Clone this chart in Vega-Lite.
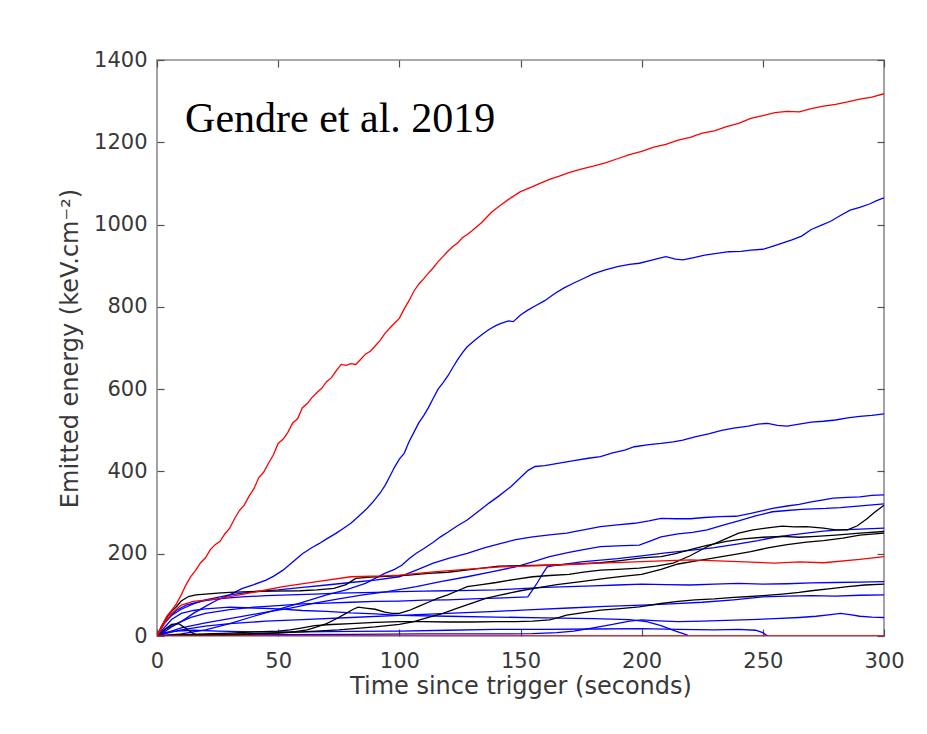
{
  "$schema": "https://vega.github.io/schema/vega-lite/v6.json",
  "width": 727,
  "height": 576,
  "autosize": {"type": "none"},
  "padding": {"left": 157, "top": 60, "right": 43, "bottom": 98},
  "background": "white",
  "config": {
    "view": {"stroke": "#8c8c8c", "strokeWidth": 1.6},
    "axis": {
      "domain": false,
      "grid": false,
      "zindex": 1,
      "offset": -7,
      "ticks": true,
      "tickColor": "#505050",
      "tickSize": 7,
      "tickWidth": 1.2,
      "labelFont": "DejaVu Sans",
      "labelFontSize": 21,
      "labelColor": "#383838",
      "titleFont": "DejaVu Sans",
      "titleFontSize": 24,
      "titleFontWeight": "normal",
      "titleColor": "#383838"
    }
  },
  "datasets": {
    "curves": [
      {"s":"B1","g":"B","t":0,"v":0},{"s":"B1","g":"B","t":3,"v":10},{"s":"B1","g":"B","t":6,"v":22},{"s":"B1","g":"B","t":10,"v":35},{"s":"B1","g":"B","t":15,"v":55},{"s":"B1","g":"B","t":20,"v":72},{"s":"B1","g":"B","t":25,"v":88},{"s":"B1","g":"B","t":30,"v":100},{"s":"B1","g":"B","t":35,"v":115},{"s":"B1","g":"B","t":40,"v":125},{"s":"B1","g":"B","t":45,"v":136},{"s":"B1","g":"B","t":48,"v":145},{"s":"B1","g":"B","t":52,"v":160},{"s":"B1","g":"B","t":56,"v":180},{"s":"B1","g":"B","t":60,"v":200},{"s":"B1","g":"B","t":64,"v":215},{"s":"B1","g":"B","t":67,"v":225},{"s":"B1","g":"B","t":70,"v":236},{"s":"B1","g":"B","t":74,"v":250},{"s":"B1","g":"B","t":77,"v":262},{"s":"B1","g":"B","t":80,"v":274},{"s":"B1","g":"B","t":83,"v":290},{"s":"B1","g":"B","t":86,"v":306},{"s":"B1","g":"B","t":89,"v":325},{"s":"B1","g":"B","t":92,"v":347},{"s":"B1","g":"B","t":94,"v":365},{"s":"B1","g":"B","t":96,"v":387},{"s":"B1","g":"B","t":98,"v":410},{"s":"B1","g":"B","t":100,"v":430},{"s":"B1","g":"B","t":102,"v":444},{"s":"B1","g":"B","t":104,"v":472},{"s":"B1","g":"B","t":106,"v":495},{"s":"B1","g":"B","t":108,"v":518},{"s":"B1","g":"B","t":110,"v":535},{"s":"B1","g":"B","t":112,"v":555},{"s":"B1","g":"B","t":114,"v":578},{"s":"B1","g":"B","t":116,"v":600},{"s":"B1","g":"B","t":118,"v":615},{"s":"B1","g":"B","t":120,"v":632},{"s":"B1","g":"B","t":122,"v":652},{"s":"B1","g":"B","t":124,"v":671},{"s":"B1","g":"B","t":126,"v":688},{"s":"B1","g":"B","t":128,"v":703},{"s":"B1","g":"B","t":131,"v":718},{"s":"B1","g":"B","t":134,"v":732},{"s":"B1","g":"B","t":137,"v":745},{"s":"B1","g":"B","t":140,"v":755},{"s":"B1","g":"B","t":142,"v":760},{"s":"B1","g":"B","t":145,"v":766},{"s":"B1","g":"B","t":147,"v":764},{"s":"B1","g":"B","t":150,"v":780},{"s":"B1","g":"B","t":153,"v":792},{"s":"B1","g":"B","t":156,"v":802},{"s":"B1","g":"B","t":160,"v":815},{"s":"B1","g":"B","t":164,"v":832},{"s":"B1","g":"B","t":168,"v":846},{"s":"B1","g":"B","t":172,"v":858},{"s":"B1","g":"B","t":176,"v":869},{"s":"B1","g":"B","t":180,"v":880},{"s":"B1","g":"B","t":185,"v":890},{"s":"B1","g":"B","t":190,"v":898},{"s":"B1","g":"B","t":195,"v":903},{"s":"B1","g":"B","t":199,"v":906},{"s":"B1","g":"B","t":203,"v":912},{"s":"B1","g":"B","t":207,"v":918},{"s":"B1","g":"B","t":210,"v":922},{"s":"B1","g":"B","t":214,"v":916},{"s":"B1","g":"B","t":217,"v":914},{"s":"B1","g":"B","t":222,"v":920},{"s":"B1","g":"B","t":226,"v":926},{"s":"B1","g":"B","t":231,"v":930},{"s":"B1","g":"B","t":236,"v":934},{"s":"B1","g":"B","t":241,"v":935},{"s":"B1","g":"B","t":245,"v":938},{"s":"B1","g":"B","t":250,"v":940},{"s":"B1","g":"B","t":253,"v":945},{"s":"B1","g":"B","t":258,"v":955},{"s":"B1","g":"B","t":262,"v":963},{"s":"B1","g":"B","t":266,"v":972},{"s":"B1","g":"B","t":270,"v":988},{"s":"B1","g":"B","t":274,"v":998},{"s":"B1","g":"B","t":278,"v":1008},{"s":"B1","g":"B","t":282,"v":1022},{"s":"B1","g":"B","t":286,"v":1035},{"s":"B1","g":"B","t":290,"v":1042},{"s":"B1","g":"B","t":294,"v":1050},{"s":"B1","g":"B","t":297,"v":1058},{"s":"B1","g":"B","t":300,"v":1065},

      {"s":"B2","g":"B","t":0,"v":0},{"s":"B2","g":"B","t":10,"v":5},{"s":"B2","g":"B","t":20,"v":15},{"s":"B2","g":"B","t":30,"v":30},{"s":"B2","g":"B","t":40,"v":48},{"s":"B2","g":"B","t":50,"v":65},{"s":"B2","g":"B","t":60,"v":82},{"s":"B2","g":"B","t":70,"v":100},{"s":"B2","g":"B","t":78,"v":112},{"s":"B2","g":"B","t":86,"v":128},{"s":"B2","g":"B","t":90,"v":140},{"s":"B2","g":"B","t":94,"v":152},{"s":"B2","g":"B","t":98,"v":162},{"s":"B2","g":"B","t":101,"v":172},{"s":"B2","g":"B","t":104,"v":188},{"s":"B2","g":"B","t":107,"v":201},{"s":"B2","g":"B","t":110,"v":212},{"s":"B2","g":"B","t":114,"v":228},{"s":"B2","g":"B","t":117,"v":241},{"s":"B2","g":"B","t":120,"v":252},{"s":"B2","g":"B","t":124,"v":268},{"s":"B2","g":"B","t":128,"v":282},{"s":"B2","g":"B","t":132,"v":300},{"s":"B2","g":"B","t":137,"v":323},{"s":"B2","g":"B","t":141,"v":340},{"s":"B2","g":"B","t":146,"v":363},{"s":"B2","g":"B","t":150,"v":385},{"s":"B2","g":"B","t":153,"v":402},{"s":"B2","g":"B","t":156,"v":412},{"s":"B2","g":"B","t":160,"v":414},{"s":"B2","g":"B","t":166,"v":420},{"s":"B2","g":"B","t":172,"v":426},{"s":"B2","g":"B","t":178,"v":432},{"s":"B2","g":"B","t":183,"v":436},{"s":"B2","g":"B","t":188,"v":445},{"s":"B2","g":"B","t":193,"v":452},{"s":"B2","g":"B","t":197,"v":460},{"s":"B2","g":"B","t":203,"v":465},{"s":"B2","g":"B","t":208,"v":468},{"s":"B2","g":"B","t":213,"v":472},{"s":"B2","g":"B","t":217,"v":476},{"s":"B2","g":"B","t":222,"v":484},{"s":"B2","g":"B","t":228,"v":492},{"s":"B2","g":"B","t":233,"v":500},{"s":"B2","g":"B","t":238,"v":505},{"s":"B2","g":"B","t":244,"v":510},{"s":"B2","g":"B","t":248,"v":515},{"s":"B2","g":"B","t":252,"v":517},{"s":"B2","g":"B","t":256,"v":512},{"s":"B2","g":"B","t":260,"v":510},{"s":"B2","g":"B","t":265,"v":515},{"s":"B2","g":"B","t":270,"v":520},{"s":"B2","g":"B","t":275,"v":522},{"s":"B2","g":"B","t":280,"v":525},{"s":"B2","g":"B","t":285,"v":530},{"s":"B2","g":"B","t":290,"v":534},{"s":"B2","g":"B","t":295,"v":536},{"s":"B2","g":"B","t":300,"v":540},

      {"s":"B3","g":"B","t":0,"v":0},{"s":"B3","g":"B","t":3,"v":30},{"s":"B3","g":"B","t":6,"v":50},{"s":"B3","g":"B","t":10,"v":65},{"s":"B3","g":"B","t":15,"v":78},{"s":"B3","g":"B","t":20,"v":88},{"s":"B3","g":"B","t":30,"v":100},{"s":"B3","g":"B","t":40,"v":108},{"s":"B3","g":"B","t":50,"v":112},{"s":"B3","g":"B","t":60,"v":118},{"s":"B3","g":"B","t":70,"v":124},{"s":"B3","g":"B","t":80,"v":130},{"s":"B3","g":"B","t":90,"v":136},{"s":"B3","g":"B","t":100,"v":144},{"s":"B3","g":"B","t":107,"v":160},{"s":"B3","g":"B","t":114,"v":177},{"s":"B3","g":"B","t":121,"v":190},{"s":"B3","g":"B","t":128,"v":201},{"s":"B3","g":"B","t":135,"v":214},{"s":"B3","g":"B","t":142,"v":225},{"s":"B3","g":"B","t":148,"v":234},{"s":"B3","g":"B","t":155,"v":241},{"s":"B3","g":"B","t":162,"v":246},{"s":"B3","g":"B","t":169,"v":250},{"s":"B3","g":"B","t":176,"v":258},{"s":"B3","g":"B","t":183,"v":266},{"s":"B3","g":"B","t":190,"v":270},{"s":"B3","g":"B","t":197,"v":274},{"s":"B3","g":"B","t":203,"v":280},{"s":"B3","g":"B","t":208,"v":286},{"s":"B3","g":"B","t":214,"v":285},{"s":"B3","g":"B","t":220,"v":285},{"s":"B3","g":"B","t":226,"v":288},{"s":"B3","g":"B","t":232,"v":290},{"s":"B3","g":"B","t":239,"v":291},{"s":"B3","g":"B","t":245,"v":298},{"s":"B3","g":"B","t":250,"v":305},{"s":"B3","g":"B","t":254,"v":310},{"s":"B3","g":"B","t":260,"v":316},{"s":"B3","g":"B","t":265,"v":320},{"s":"B3","g":"B","t":270,"v":326},{"s":"B3","g":"B","t":275,"v":331},{"s":"B3","g":"B","t":279,"v":335},{"s":"B3","g":"B","t":285,"v":337},{"s":"B3","g":"B","t":290,"v":338},{"s":"B3","g":"B","t":295,"v":342},{"s":"B3","g":"B","t":300,"v":343},

      {"s":"B4","g":"B","t":0,"v":0},{"s":"B4","g":"B","t":5,"v":10},{"s":"B4","g":"B","t":10,"v":20},{"s":"B4","g":"B","t":20,"v":32},{"s":"B4","g":"B","t":30,"v":42},{"s":"B4","g":"B","t":45,"v":58},{"s":"B4","g":"B","t":55,"v":68},{"s":"B4","g":"B","t":65,"v":80},{"s":"B4","g":"B","t":75,"v":90},{"s":"B4","g":"B","t":85,"v":100},{"s":"B4","g":"B","t":95,"v":108},{"s":"B4","g":"B","t":107,"v":120},{"s":"B4","g":"B","t":117,"v":132},{"s":"B4","g":"B","t":128,"v":144},{"s":"B4","g":"B","t":138,"v":156},{"s":"B4","g":"B","t":148,"v":168},{"s":"B4","g":"B","t":155,"v":180},{"s":"B4","g":"B","t":162,"v":193},{"s":"B4","g":"B","t":170,"v":203},{"s":"B4","g":"B","t":176,"v":210},{"s":"B4","g":"B","t":183,"v":217},{"s":"B4","g":"B","t":190,"v":219},{"s":"B4","g":"B","t":199,"v":221},{"s":"B4","g":"B","t":204,"v":232},{"s":"B4","g":"B","t":208,"v":241},{"s":"B4","g":"B","t":215,"v":248},{"s":"B4","g":"B","t":221,"v":252},{"s":"B4","g":"B","t":227,"v":258},{"s":"B4","g":"B","t":234,"v":270},{"s":"B4","g":"B","t":240,"v":280},{"s":"B4","g":"B","t":247,"v":292},{"s":"B4","g":"B","t":254,"v":302},{"s":"B4","g":"B","t":260,"v":305},{"s":"B4","g":"B","t":266,"v":308},{"s":"B4","g":"B","t":271,"v":309},{"s":"B4","g":"B","t":276,"v":310},{"s":"B4","g":"B","t":282,"v":312},{"s":"B4","g":"B","t":288,"v":315},{"s":"B4","g":"B","t":294,"v":318},{"s":"B4","g":"B","t":300,"v":321},

      {"s":"B5","g":"B","t":0,"v":0},{"s":"B5","g":"B","t":4,"v":18},{"s":"B5","g":"B","t":8,"v":30},{"s":"B5","g":"B","t":14,"v":45},{"s":"B5","g":"B","t":20,"v":55},{"s":"B5","g":"B","t":30,"v":64},{"s":"B5","g":"B","t":40,"v":70},{"s":"B5","g":"B","t":50,"v":74},{"s":"B5","g":"B","t":60,"v":78},{"s":"B5","g":"B","t":70,"v":80},{"s":"B5","g":"B","t":80,"v":82},{"s":"B5","g":"B","t":90,"v":84},{"s":"B5","g":"B","t":100,"v":85},{"s":"B5","g":"B","t":110,"v":87},{"s":"B5","g":"B","t":120,"v":88},{"s":"B5","g":"B","t":130,"v":90},{"s":"B5","g":"B","t":140,"v":92},{"s":"B5","g":"B","t":148,"v":94},{"s":"B5","g":"B","t":153,"v":95},{"s":"B5","g":"B","t":155,"v":112},{"s":"B5","g":"B","t":157,"v":130},{"s":"B5","g":"B","t":159,"v":150},{"s":"B5","g":"B","t":161,"v":168},{"s":"B5","g":"B","t":165,"v":172},{"s":"B5","g":"B","t":170,"v":176},{"s":"B5","g":"B","t":175,"v":180},{"s":"B5","g":"B","t":182,"v":184},{"s":"B5","g":"B","t":190,"v":188},{"s":"B5","g":"B","t":200,"v":195},{"s":"B5","g":"B","t":210,"v":202},{"s":"B5","g":"B","t":220,"v":208},{"s":"B5","g":"B","t":230,"v":215},{"s":"B5","g":"B","t":240,"v":224},{"s":"B5","g":"B","t":248,"v":232},{"s":"B5","g":"B","t":255,"v":240},{"s":"B5","g":"B","t":262,"v":246},{"s":"B5","g":"B","t":268,"v":250},{"s":"B5","g":"B","t":275,"v":255},{"s":"B5","g":"B","t":282,"v":258},{"s":"B5","g":"B","t":290,"v":260},{"s":"B5","g":"B","t":300,"v":262},

      {"s":"B6","g":"B","t":0,"v":0},{"s":"B6","g":"B","t":2,"v":25},{"s":"B6","g":"B","t":5,"v":45},{"s":"B6","g":"B","t":8,"v":62},{"s":"B6","g":"B","t":12,"v":75},{"s":"B6","g":"B","t":18,"v":84},{"s":"B6","g":"B","t":25,"v":90},{"s":"B6","g":"B","t":35,"v":95},{"s":"B6","g":"B","t":45,"v":98},{"s":"B6","g":"B","t":55,"v":100},{"s":"B6","g":"B","t":65,"v":102},{"s":"B6","g":"B","t":75,"v":104},{"s":"B6","g":"B","t":90,"v":106},{"s":"B6","g":"B","t":100,"v":108},{"s":"B6","g":"B","t":110,"v":109},{"s":"B6","g":"B","t":120,"v":110},{"s":"B6","g":"B","t":130,"v":111},{"s":"B6","g":"B","t":140,"v":112},{"s":"B6","g":"B","t":150,"v":115},{"s":"B6","g":"B","t":160,"v":118},{"s":"B6","g":"B","t":170,"v":120},{"s":"B6","g":"B","t":180,"v":122},{"s":"B6","g":"B","t":190,"v":124},{"s":"B6","g":"B","t":200,"v":126},{"s":"B6","g":"B","t":210,"v":125},{"s":"B6","g":"B","t":220,"v":124},{"s":"B6","g":"B","t":230,"v":126},{"s":"B6","g":"B","t":240,"v":128},{"s":"B6","g":"B","t":250,"v":126},{"s":"B6","g":"B","t":260,"v":127},{"s":"B6","g":"B","t":270,"v":129},{"s":"B6","g":"B","t":280,"v":130},{"s":"B6","g":"B","t":290,"v":131},{"s":"B6","g":"B","t":300,"v":132},

      {"s":"B7","g":"B","t":0,"v":0},{"s":"B7","g":"B","t":5,"v":8},{"s":"B7","g":"B","t":10,"v":15},{"s":"B7","g":"B","t":20,"v":24},{"s":"B7","g":"B","t":30,"v":30},{"s":"B7","g":"B","t":45,"v":36},{"s":"B7","g":"B","t":60,"v":40},{"s":"B7","g":"B","t":80,"v":45},{"s":"B7","g":"B","t":100,"v":50},{"s":"B7","g":"B","t":120,"v":55},{"s":"B7","g":"B","t":140,"v":60},{"s":"B7","g":"B","t":155,"v":64},{"s":"B7","g":"B","t":170,"v":68},{"s":"B7","g":"B","t":185,"v":72},{"s":"B7","g":"B","t":200,"v":75},{"s":"B7","g":"B","t":212,"v":78},{"s":"B7","g":"B","t":225,"v":82},{"s":"B7","g":"B","t":238,"v":88},{"s":"B7","g":"B","t":250,"v":95},{"s":"B7","g":"B","t":260,"v":97},{"s":"B7","g":"B","t":270,"v":98},{"s":"B7","g":"B","t":280,"v":97},{"s":"B7","g":"B","t":290,"v":99},{"s":"B7","g":"B","t":300,"v":100},

      {"s":"B8","g":"B","t":0,"v":0},{"s":"B8","g":"B","t":20,"v":2},{"s":"B8","g":"B","t":50,"v":3},{"s":"B8","g":"B","t":80,"v":4},{"s":"B8","g":"B","t":110,"v":5},{"s":"B8","g":"B","t":140,"v":5},{"s":"B8","g":"B","t":155,"v":6},{"s":"B8","g":"B","t":165,"v":8},{"s":"B8","g":"B","t":172,"v":12},{"s":"B8","g":"B","t":180,"v":20},{"s":"B8","g":"B","t":188,"v":28},{"s":"B8","g":"B","t":195,"v":36},{"s":"B8","g":"B","t":200,"v":39},{"s":"B8","g":"B","t":207,"v":37},{"s":"B8","g":"B","t":215,"v":35},{"s":"B8","g":"B","t":225,"v":36},{"s":"B8","g":"B","t":235,"v":38},{"s":"B8","g":"B","t":245,"v":40},{"s":"B8","g":"B","t":255,"v":42},{"s":"B8","g":"B","t":265,"v":45},{"s":"B8","g":"B","t":272,"v":48},{"s":"B8","g":"B","t":278,"v":52},{"s":"B8","g":"B","t":282,"v":55},{"s":"B8","g":"B","t":286,"v":52},{"s":"B8","g":"B","t":290,"v":48},{"s":"B8","g":"B","t":295,"v":46},{"s":"B8","g":"B","t":300,"v":45},

      {"s":"B9","g":"B","t":0,"v":0},{"s":"B9","g":"B","t":3,"v":8},{"s":"B9","g":"B","t":8,"v":12},{"s":"B9","g":"B","t":15,"v":14},{"s":"B9","g":"B","t":25,"v":12},{"s":"B9","g":"B","t":40,"v":10},{"s":"B9","g":"B","t":60,"v":10},{"s":"B9","g":"B","t":80,"v":11},{"s":"B9","g":"B","t":100,"v":12},{"s":"B9","g":"B","t":120,"v":14},{"s":"B9","g":"B","t":140,"v":16},{"s":"B9","g":"B","t":160,"v":16},{"s":"B9","g":"B","t":180,"v":17},{"s":"B9","g":"B","t":200,"v":18},{"s":"B9","g":"B","t":215,"v":16},{"s":"B9","g":"B","t":230,"v":15},{"s":"B9","g":"B","t":240,"v":16},{"s":"B9","g":"B","t":247,"v":14},{"s":"B9","g":"B","t":250,"v":8},{"s":"B9","g":"B","t":252,"v":0},

      {"s":"B10","g":"B","t":0,"v":0},{"s":"B10","g":"B","t":3,"v":20},{"s":"B10","g":"B","t":6,"v":40},{"s":"B10","g":"B","t":10,"v":55},{"s":"B10","g":"B","t":15,"v":62},{"s":"B10","g":"B","t":20,"v":66},{"s":"B10","g":"B","t":30,"v":70},{"s":"B10","g":"B","t":40,"v":68},{"s":"B10","g":"B","t":50,"v":66},{"s":"B10","g":"B","t":60,"v":62},{"s":"B10","g":"B","t":70,"v":60},{"s":"B10","g":"B","t":80,"v":56},{"s":"B10","g":"B","t":90,"v":54},{"s":"B10","g":"B","t":100,"v":50},{"s":"B10","g":"B","t":120,"v":48},{"s":"B10","g":"B","t":140,"v":46},{"s":"B10","g":"B","t":160,"v":44},{"s":"B10","g":"B","t":180,"v":42},{"s":"B10","g":"B","t":195,"v":40},{"s":"B10","g":"B","t":202,"v":35},{"s":"B10","g":"B","t":208,"v":25},{"s":"B10","g":"B","t":214,"v":12},{"s":"B10","g":"B","t":219,"v":2},

      {"s":"K1","g":"C","t":0,"v":0},{"s":"K1","g":"C","t":15,"v":2},{"s":"K1","g":"C","t":30,"v":3},{"s":"K1","g":"C","t":45,"v":6},{"s":"K1","g":"C","t":55,"v":9},{"s":"K1","g":"C","t":62,"v":15},{"s":"K1","g":"C","t":66,"v":22},{"s":"K1","g":"C","t":70,"v":30},{"s":"K1","g":"C","t":74,"v":42},{"s":"K1","g":"C","t":78,"v":55},{"s":"K1","g":"C","t":81,"v":65},{"s":"K1","g":"C","t":83,"v":70},{"s":"K1","g":"C","t":86,"v":68},{"s":"K1","g":"C","t":90,"v":65},{"s":"K1","g":"C","t":94,"v":58},{"s":"K1","g":"C","t":97,"v":55},{"s":"K1","g":"C","t":100,"v":55},{"s":"K1","g":"C","t":104,"v":62},{"s":"K1","g":"C","t":108,"v":72},{"s":"K1","g":"C","t":112,"v":82},{"s":"K1","g":"C","t":116,"v":92},{"s":"K1","g":"C","t":120,"v":100},{"s":"K1","g":"C","t":124,"v":110},{"s":"K1","g":"C","t":128,"v":120},{"s":"K1","g":"C","t":134,"v":125},{"s":"K1","g":"C","t":140,"v":130},{"s":"K1","g":"C","t":147,"v":137},{"s":"K1","g":"C","t":155,"v":144},{"s":"K1","g":"C","t":162,"v":147},{"s":"K1","g":"C","t":170,"v":150},{"s":"K1","g":"C","t":176,"v":155},{"s":"K1","g":"C","t":183,"v":160},{"s":"K1","g":"C","t":190,"v":162},{"s":"K1","g":"C","t":199,"v":165},{"s":"K1","g":"C","t":206,"v":170},{"s":"K1","g":"C","t":213,"v":177},{"s":"K1","g":"C","t":220,"v":195},{"s":"K1","g":"C","t":227,"v":217},{"s":"K1","g":"C","t":233,"v":232},{"s":"K1","g":"C","t":240,"v":250},{"s":"K1","g":"C","t":246,"v":258},{"s":"K1","g":"C","t":252,"v":263},{"s":"K1","g":"C","t":258,"v":267},{"s":"K1","g":"C","t":263,"v":265},{"s":"K1","g":"C","t":268,"v":266},{"s":"K1","g":"C","t":275,"v":262},{"s":"K1","g":"C","t":280,"v":258},{"s":"K1","g":"C","t":285,"v":258},{"s":"K1","g":"C","t":289,"v":268},{"s":"K1","g":"C","t":293,"v":285},{"s":"K1","g":"C","t":296,"v":300},{"s":"K1","g":"C","t":300,"v":318},

      {"s":"K2","g":"C","t":0,"v":0},{"s":"K2","g":"C","t":2,"v":25},{"s":"K2","g":"C","t":4,"v":45},{"s":"K2","g":"C","t":6,"v":60},{"s":"K2","g":"C","t":8,"v":71},{"s":"K2","g":"C","t":10,"v":85},{"s":"K2","g":"C","t":13,"v":96},{"s":"K2","g":"C","t":16,"v":100},{"s":"K2","g":"C","t":20,"v":102},{"s":"K2","g":"C","t":25,"v":104},{"s":"K2","g":"C","t":30,"v":106},{"s":"K2","g":"C","t":38,"v":108},{"s":"K2","g":"C","t":48,"v":109},{"s":"K2","g":"C","t":59,"v":110},{"s":"K2","g":"C","t":66,"v":112},{"s":"K2","g":"C","t":73,"v":116},{"s":"K2","g":"C","t":78,"v":125},{"s":"K2","g":"C","t":82,"v":140},{"s":"K2","g":"C","t":88,"v":143},{"s":"K2","g":"C","t":95,"v":145},{"s":"K2","g":"C","t":104,"v":148},{"s":"K2","g":"C","t":112,"v":152},{"s":"K2","g":"C","t":120,"v":155},{"s":"K2","g":"C","t":130,"v":162},{"s":"K2","g":"C","t":141,"v":170},{"s":"K2","g":"C","t":150,"v":171},{"s":"K2","g":"C","t":160,"v":172},{"s":"K2","g":"C","t":170,"v":174},{"s":"K2","g":"C","t":183,"v":178},{"s":"K2","g":"C","t":192,"v":184},{"s":"K2","g":"C","t":200,"v":190},{"s":"K2","g":"C","t":208,"v":193},{"s":"K2","g":"C","t":214,"v":200},{"s":"K2","g":"C","t":220,"v":210},{"s":"K2","g":"C","t":227,"v":220},{"s":"K2","g":"C","t":235,"v":230},{"s":"K2","g":"C","t":242,"v":236},{"s":"K2","g":"C","t":250,"v":240},{"s":"K2","g":"C","t":258,"v":242},{"s":"K2","g":"C","t":265,"v":240},{"s":"K2","g":"C","t":272,"v":242},{"s":"K2","g":"C","t":280,"v":245},{"s":"K2","g":"C","t":290,"v":250},{"s":"K2","g":"C","t":300,"v":254},

      {"s":"K3","g":"C","t":0,"v":0},{"s":"K3","g":"C","t":20,"v":3},{"s":"K3","g":"C","t":40,"v":6},{"s":"K3","g":"C","t":60,"v":10},{"s":"K3","g":"C","t":75,"v":15},{"s":"K3","g":"C","t":90,"v":22},{"s":"K3","g":"C","t":100,"v":28},{"s":"K3","g":"C","t":106,"v":35},{"s":"K3","g":"C","t":112,"v":45},{"s":"K3","g":"C","t":118,"v":55},{"s":"K3","g":"C","t":124,"v":68},{"s":"K3","g":"C","t":130,"v":80},{"s":"K3","g":"C","t":136,"v":92},{"s":"K3","g":"C","t":142,"v":100},{"s":"K3","g":"C","t":150,"v":110},{"s":"K3","g":"C","t":158,"v":118},{"s":"K3","g":"C","t":165,"v":125},{"s":"K3","g":"C","t":175,"v":132},{"s":"K3","g":"C","t":185,"v":140},{"s":"K3","g":"C","t":192,"v":145},{"s":"K3","g":"C","t":200,"v":150},{"s":"K3","g":"C","t":208,"v":162},{"s":"K3","g":"C","t":215,"v":175},{"s":"K3","g":"C","t":222,"v":182},{"s":"K3","g":"C","t":230,"v":190},{"s":"K3","g":"C","t":238,"v":198},{"s":"K3","g":"C","t":245,"v":205},{"s":"K3","g":"C","t":252,"v":214},{"s":"K3","g":"C","t":260,"v":222},{"s":"K3","g":"C","t":268,"v":228},{"s":"K3","g":"C","t":275,"v":232},{"s":"K3","g":"C","t":283,"v":238},{"s":"K3","g":"C","t":290,"v":245},{"s":"K3","g":"C","t":300,"v":250},

      {"s":"K4","g":"C","t":0,"v":0},{"s":"K4","g":"C","t":10,"v":3},{"s":"K4","g":"C","t":20,"v":5},{"s":"K4","g":"C","t":30,"v":7},{"s":"K4","g":"C","t":40,"v":10},{"s":"K4","g":"C","t":50,"v":12},{"s":"K4","g":"C","t":55,"v":15},{"s":"K4","g":"C","t":60,"v":20},{"s":"K4","g":"C","t":65,"v":25},{"s":"K4","g":"C","t":72,"v":28},{"s":"K4","g":"C","t":80,"v":30},{"s":"K4","g":"C","t":90,"v":33},{"s":"K4","g":"C","t":100,"v":35},{"s":"K4","g":"C","t":110,"v":35},{"s":"K4","g":"C","t":120,"v":34},{"s":"K4","g":"C","t":130,"v":34},{"s":"K4","g":"C","t":140,"v":35},{"s":"K4","g":"C","t":148,"v":35},{"s":"K4","g":"C","t":155,"v":36},{"s":"K4","g":"C","t":162,"v":39},{"s":"K4","g":"C","t":166,"v":45},{"s":"K4","g":"C","t":169,"v":51},{"s":"K4","g":"C","t":176,"v":57},{"s":"K4","g":"C","t":183,"v":63},{"s":"K4","g":"C","t":190,"v":66},{"s":"K4","g":"C","t":199,"v":71},{"s":"K4","g":"C","t":208,"v":79},{"s":"K4","g":"C","t":215,"v":84},{"s":"K4","g":"C","t":222,"v":88},{"s":"K4","g":"C","t":230,"v":90},{"s":"K4","g":"C","t":238,"v":94},{"s":"K4","g":"C","t":245,"v":96},{"s":"K4","g":"C","t":250,"v":98},{"s":"K4","g":"C","t":258,"v":102},{"s":"K4","g":"C","t":265,"v":106},{"s":"K4","g":"C","t":270,"v":110},{"s":"K4","g":"C","t":278,"v":115},{"s":"K4","g":"C","t":285,"v":120},{"s":"K4","g":"C","t":292,"v":124},{"s":"K4","g":"C","t":300,"v":126},

      {"s":"K5","g":"C","t":0,"v":0},{"s":"K5","g":"C","t":3,"v":15},{"s":"K5","g":"C","t":6,"v":28},{"s":"K5","g":"C","t":9,"v":30},{"s":"K5","g":"C","t":12,"v":18},{"s":"K5","g":"C","t":15,"v":6},{"s":"K5","g":"C","t":18,"v":0},

      {"s":"R2","g":"A","t":0,"v":0},{"s":"R2","g":"A","t":3,"v":30},{"s":"R2","g":"A","t":6,"v":55},{"s":"R2","g":"A","t":10,"v":75},{"s":"R2","g":"A","t":15,"v":84},{"s":"R2","g":"A","t":25,"v":90},{"s":"R2","g":"A","t":38,"v":104},{"s":"R2","g":"A","t":52,"v":120},{"s":"R2","g":"A","t":66,"v":132},{"s":"R2","g":"A","t":80,"v":144},{"s":"R2","g":"A","t":93,"v":146},{"s":"R2","g":"A","t":100,"v":148},{"s":"R2","g":"A","t":114,"v":156},{"s":"R2","g":"A","t":130,"v":163},{"s":"R2","g":"A","t":142,"v":168},{"s":"R2","g":"A","t":162,"v":172},{"s":"R2","g":"A","t":183,"v":177},{"s":"R2","g":"A","t":200,"v":181},{"s":"R2","g":"A","t":220,"v":185},{"s":"R2","g":"A","t":240,"v":181},{"s":"R2","g":"A","t":255,"v":177},{"s":"R2","g":"A","t":265,"v":180},{"s":"R2","g":"A","t":275,"v":178},{"s":"R2","g":"A","t":290,"v":186},{"s":"R2","g":"A","t":300,"v":193},

      {"s":"R3","g":"A","t":0,"v":0.5},{"s":"R3","g":"A","t":300,"v":0.5},

      {"s":"R1","g":"A","t":0,"v":0},{"s":"R1","g":"A","t":2,"v":25},{"s":"R1","g":"A","t":4,"v":48},{"s":"R1","g":"A","t":6,"v":62},{"s":"R1","g":"A","t":8,"v":78},{"s":"R1","g":"A","t":10,"v":100},{"s":"R1","g":"A","t":12,"v":125},{"s":"R1","g":"A","t":14,"v":145},{"s":"R1","g":"A","t":16,"v":160},{"s":"R1","g":"A","t":18,"v":178},{"s":"R1","g":"A","t":20,"v":190},{"s":"R1","g":"A","t":22,"v":210},{"s":"R1","g":"A","t":24,"v":222},{"s":"R1","g":"A","t":26,"v":230},{"s":"R1","g":"A","t":28,"v":248},{"s":"R1","g":"A","t":30,"v":262},{"s":"R1","g":"A","t":32,"v":285},{"s":"R1","g":"A","t":34,"v":305},{"s":"R1","g":"A","t":36,"v":318},{"s":"R1","g":"A","t":38,"v":340},{"s":"R1","g":"A","t":40,"v":358},{"s":"R1","g":"A","t":42,"v":385},{"s":"R1","g":"A","t":44,"v":398},{"s":"R1","g":"A","t":46,"v":420},{"s":"R1","g":"A","t":48,"v":440},{"s":"R1","g":"A","t":50,"v":468},{"s":"R1","g":"A","t":52,"v":478},{"s":"R1","g":"A","t":54,"v":495},{"s":"R1","g":"A","t":56,"v":518},{"s":"R1","g":"A","t":58,"v":528},{"s":"R1","g":"A","t":60,"v":555},{"s":"R1","g":"A","t":62,"v":565},{"s":"R1","g":"A","t":64,"v":580},{"s":"R1","g":"A","t":66,"v":592},{"s":"R1","g":"A","t":68,"v":602},{"s":"R1","g":"A","t":70,"v":618},{"s":"R1","g":"A","t":72,"v":628},{"s":"R1","g":"A","t":74,"v":645},{"s":"R1","g":"A","t":76,"v":660},{"s":"R1","g":"A","t":78,"v":658},{"s":"R1","g":"A","t":80,"v":662},{"s":"R1","g":"A","t":82,"v":660},{"s":"R1","g":"A","t":84,"v":672},{"s":"R1","g":"A","t":86,"v":685},{"s":"R1","g":"A","t":88,"v":692},{"s":"R1","g":"A","t":90,"v":705},{"s":"R1","g":"A","t":92,"v":718},{"s":"R1","g":"A","t":94,"v":735},{"s":"R1","g":"A","t":96,"v":748},{"s":"R1","g":"A","t":98,"v":760},{"s":"R1","g":"A","t":100,"v":772},{"s":"R1","g":"A","t":102,"v":795},{"s":"R1","g":"A","t":104,"v":815},{"s":"R1","g":"A","t":106,"v":838},{"s":"R1","g":"A","t":108,"v":855},{"s":"R1","g":"A","t":110,"v":868},{"s":"R1","g":"A","t":112,"v":882},{"s":"R1","g":"A","t":114,"v":895},{"s":"R1","g":"A","t":116,"v":910},{"s":"R1","g":"A","t":118,"v":922},{"s":"R1","g":"A","t":120,"v":935},{"s":"R1","g":"A","t":122,"v":946},{"s":"R1","g":"A","t":124,"v":955},{"s":"R1","g":"A","t":126,"v":968},{"s":"R1","g":"A","t":128,"v":976},{"s":"R1","g":"A","t":130,"v":985},{"s":"R1","g":"A","t":134,"v":1005},{"s":"R1","g":"A","t":138,"v":1030},{"s":"R1","g":"A","t":142,"v":1048},{"s":"R1","g":"A","t":146,"v":1065},{"s":"R1","g":"A","t":150,"v":1080},{"s":"R1","g":"A","t":154,"v":1090},{"s":"R1","g":"A","t":158,"v":1100},{"s":"R1","g":"A","t":162,"v":1110},{"s":"R1","g":"A","t":166,"v":1118},{"s":"R1","g":"A","t":170,"v":1126},{"s":"R1","g":"A","t":175,"v":1135},{"s":"R1","g":"A","t":180,"v":1142},{"s":"R1","g":"A","t":185,"v":1150},{"s":"R1","g":"A","t":190,"v":1160},{"s":"R1","g":"A","t":195,"v":1170},{"s":"R1","g":"A","t":200,"v":1178},{"s":"R1","g":"A","t":205,"v":1188},{"s":"R1","g":"A","t":210,"v":1195},{"s":"R1","g":"A","t":215,"v":1205},{"s":"R1","g":"A","t":220,"v":1212},{"s":"R1","g":"A","t":225,"v":1222},{"s":"R1","g":"A","t":230,"v":1228},{"s":"R1","g":"A","t":235,"v":1238},{"s":"R1","g":"A","t":240,"v":1246},{"s":"R1","g":"A","t":245,"v":1258},{"s":"R1","g":"A","t":250,"v":1265},{"s":"R1","g":"A","t":255,"v":1272},{"s":"R1","g":"A","t":260,"v":1275},{"s":"R1","g":"A","t":265,"v":1274},{"s":"R1","g":"A","t":270,"v":1282},{"s":"R1","g":"A","t":275,"v":1288},{"s":"R1","g":"A","t":280,"v":1292},{"s":"R1","g":"A","t":285,"v":1298},{"s":"R1","g":"A","t":290,"v":1305},{"s":"R1","g":"A","t":295,"v":1310},{"s":"R1","g":"A","t":300,"v":1318}
    ],
    "note": [
      {"t": 11.6, "v": 1226, "label": "Gendre et al. 2019"}
    ]
  },
  "layer": [
    {
      "data": {"name": "curves"},
      "mark": {"type": "line", "strokeWidth": 1.3, "clip": true},
      "encoding": {
        "x": {
          "field": "t", "type": "quantitative",
          "scale": {"domain": [0, 300], "nice": false, "zero": false},
          "axis": {"orient": "bottom", "values": [0, 50, 100, 150, 200, 250, 300], "format": "d", "labelPadding": 14, "title": "Time since trigger (seconds)", "titlePadding": 3, "labelFlush": false}
        },
        "y": {
          "field": "v", "type": "quantitative",
          "scale": {"domain": [0, 1400], "nice": false},
          "axis": {"orient": "left", "values": [0, 200, 400, 600, 800, 1000, 1200, 1400], "format": "d", "labelPadding": 10, "title": "Emitted energy (keV.cm⁻²)", "titlePadding": 11, "labelFlush": false}
        },
        "color": {
          "field": "g", "type": "nominal",
          "scale": {"domain": ["A", "B", "C"], "range": ["#ff0000", "#0000ff", "#000000"]},
          "legend": null
        },
        "detail": {"field": "s", "type": "nominal"}
      }
    },
    {
      "data": {"name": "note"},
      "mark": {"type": "text", "font": "Liberation Serif", "fontSize": 42, "align": "left", "baseline": "alphabetic", "color": "#000000"},
      "encoding": {
        "x": {"field": "t", "type": "quantitative", "axis": {"orient": "top", "values": [0, 50, 100, 150, 200, 250, 300], "labels": false, "title": null}},
        "y": {"field": "v", "type": "quantitative", "axis": {"orient": "right", "values": [0, 200, 400, 600, 800, 1000, 1200, 1400], "labels": false, "title": null}},
        "text": {"field": "label"}
      }
    }
  ],
  "resolve": {"axis": {"x": "independent", "y": "independent"}}
}
